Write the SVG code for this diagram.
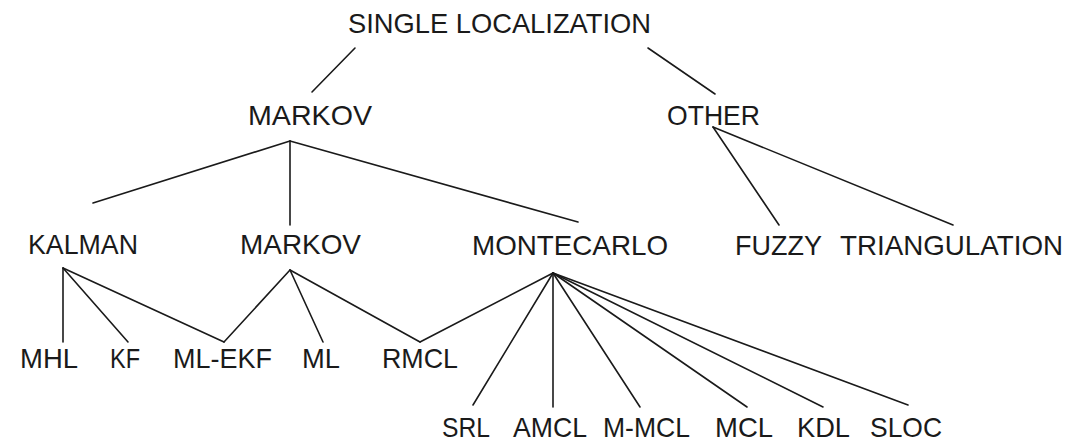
<svg xmlns="http://www.w3.org/2000/svg" width="1070" height="442" viewBox="0 0 1070 442">
<style>
text{font-family:"Liberation Sans",Arial,sans-serif;font-size:28px;fill:#1a1a1a;}
.c line{stroke:#1a1a1a;stroke-width:1.6;stroke-linecap:round;}
</style>
<rect width="1070" height="442" fill="#ffffff"/>
<g class="c" id="connectors">
<line x1="355" y1="48" x2="312" y2="92"/>
<line x1="648" y1="48" x2="715" y2="94"/>
<line x1="290" y1="141" x2="93" y2="203"/>
<line x1="290" y1="141" x2="290" y2="225"/>
<line x1="290" y1="141" x2="578" y2="222"/>
<line x1="713" y1="127" x2="779" y2="225"/>
<line x1="713" y1="127" x2="953" y2="225"/>
<line x1="63" y1="268" x2="63" y2="342"/>
<line x1="63" y1="268" x2="128" y2="342"/>
<line x1="63" y1="268" x2="224" y2="342"/>
<line x1="290" y1="270" x2="224" y2="342"/>
<line x1="290" y1="270" x2="323" y2="342"/>
<line x1="290" y1="270" x2="420" y2="342"/>
<line x1="553" y1="273" x2="420" y2="342"/>
<line x1="553" y1="273" x2="473" y2="405"/>
<line x1="553" y1="273" x2="553" y2="407"/>
<line x1="553" y1="273" x2="640" y2="407"/>
<line x1="553" y1="273" x2="747" y2="407"/>
<line x1="553" y1="273" x2="823" y2="407"/>
<line x1="553" y1="273" x2="908" y2="405"/>
</g>
<g id="single-localization"><text x="348" y="33" textLength="303" lengthAdjust="spacingAndGlyphs">SINGLE LOCALIZATION</text></g>
<g id="markov-top"><text x="248" y="125" textLength="124" lengthAdjust="spacingAndGlyphs">MARKOV</text></g>
<g id="other"><text x="667" y="125" textLength="93" lengthAdjust="spacingAndGlyphs">OTHER</text></g>
<g id="kalman"><text x="28" y="254" textLength="110" lengthAdjust="spacingAndGlyphs">KALMAN</text></g>
<g id="markov"><text x="240" y="254" textLength="121" lengthAdjust="spacingAndGlyphs">MARKOV</text></g>
<g id="montecarlo"><text x="472" y="255" textLength="196" lengthAdjust="spacingAndGlyphs">MONTECARLO</text></g>
<g id="fuzzy"><text x="735" y="255" textLength="87" lengthAdjust="spacingAndGlyphs">FUZZY</text></g>
<g id="triangulation"><text x="840" y="255" textLength="223" lengthAdjust="spacingAndGlyphs">TRIANGULATION</text></g>
<g id="mhl"><text x="20" y="368" textLength="58" lengthAdjust="spacingAndGlyphs">MHL</text></g>
<g id="kf"><text x="110" y="368" textLength="30" lengthAdjust="spacingAndGlyphs">KF</text></g>
<g id="ml-ekf"><text x="173" y="368" textLength="99" lengthAdjust="spacingAndGlyphs">ML-EKF</text></g>
<g id="ml"><text x="302" y="368" textLength="38" lengthAdjust="spacingAndGlyphs">ML</text></g>
<g id="rmcl"><text x="382" y="368" textLength="76" lengthAdjust="spacingAndGlyphs">RMCL</text></g>
<g id="srl"><text x="442" y="437" textLength="48" lengthAdjust="spacingAndGlyphs">SRL</text></g>
<g id="amcl"><text x="513" y="437" textLength="74" lengthAdjust="spacingAndGlyphs">AMCL</text></g>
<g id="m-mcl"><text x="603" y="437" textLength="87" lengthAdjust="spacingAndGlyphs">M-MCL</text></g>
<g id="mcl"><text x="715" y="437" textLength="58" lengthAdjust="spacingAndGlyphs">MCL</text></g>
<g id="kdl"><text x="797" y="437" textLength="53" lengthAdjust="spacingAndGlyphs">KDL</text></g>
<g id="sloc"><text x="870" y="437" textLength="72" lengthAdjust="spacingAndGlyphs">SLOC</text></g>
</svg>
